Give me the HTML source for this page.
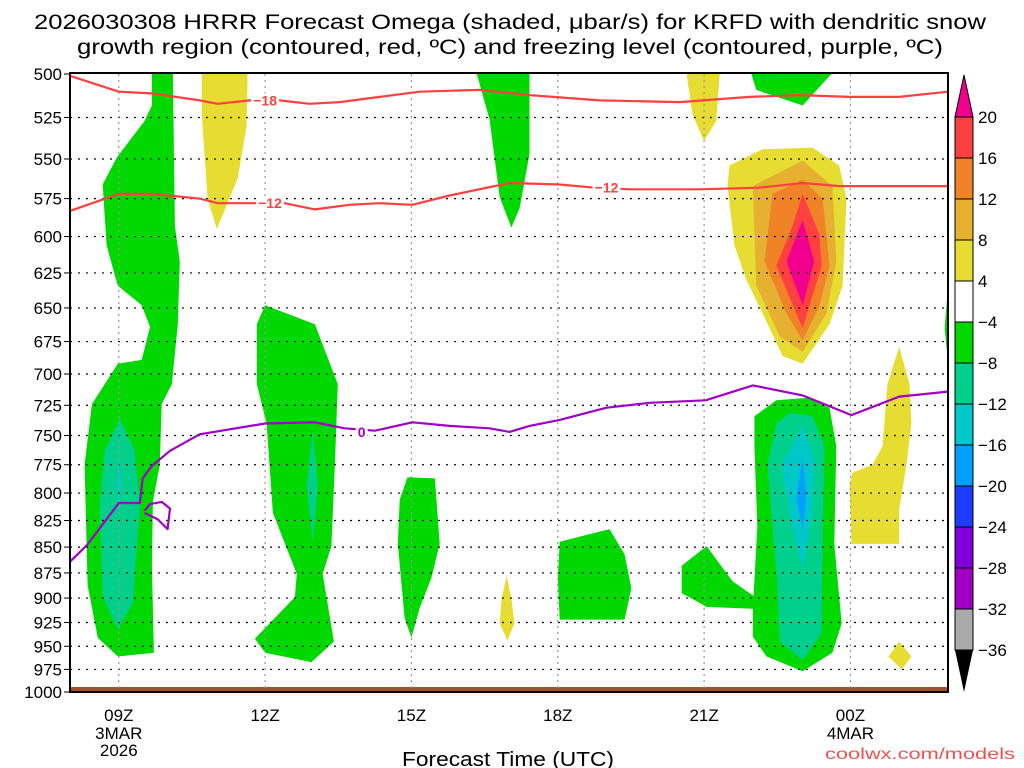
<!DOCTYPE html>
<html><head><meta charset="utf-8"><style>
html,body{margin:0;padding:0;background:#fff;}
svg{display:block;font-family:"Liberation Sans",sans-serif;}
</style></head><body>
<svg id="chart" width="1024" height="768" viewBox="0 0 1024 768" xmlns="http://www.w3.org/2000/svg">
<rect x="0" y="0" width="1024" height="768" fill="#fff"/>
<text x="510" y="29" font-size="21" text-anchor="middle" textLength="952" lengthAdjust="spacingAndGlyphs">2026030308 HRRR Forecast Omega (shaded, μbar/s) for KRFD with dendritic snow</text>
<text x="510" y="54" font-size="21" text-anchor="middle" textLength="866" lengthAdjust="spacingAndGlyphs">growth region (contoured, red, ºC) and freezing level (contoured, purple, ºC)</text>
<g id="shade"></g>
<rect x="70" y="687" width="878" height="5" fill="#a0522d"/>
<g id="grid"></g>
<g id="lines"></g>
<rect x="70" y="73" width="878" height="619" fill="none" stroke="#000" stroke-width="2"/>
<g id="axes"></g>
<g id="cbar"></g>
<text x="508" y="766" font-size="20" text-anchor="middle" textLength="212" lengthAdjust="spacingAndGlyphs">Forecast Time (UTC)</text>
<text x="1015" y="759" font-size="16" text-anchor="end" fill="#f05050" textLength="190" lengthAdjust="spacingAndGlyphs">coolwx.com/models</text>
</svg>
<script>
// ---- data ----
const pressureTicks=[500,525,550,575,600,625,650,675,700,725,750,775,800,825,850,875,900,925,950,975,1000];
const hourTicks=[9,12,15,18,21,24];
const hourLabels=["09Z","12Z","15Z","18Z","21Z","00Z"];
const dateLabels={9:["3MAR","2026"],24:["4MAR"]};
const cbarLevels=["20","16","12","8","4","\u22124","\u22128","\u221212","\u221216","\u221220","\u221224","\u221228","\u221232","\u221236"];
const cbarColors=["#ff4040","#f08228","#e6b030","#e6dc32","#ffffff","#00d800","#00d08c","#00c8c8","#00a0ff","#1e3cff","#8000d8","#a000c0","#aaaaaa"];
const levelColor={y:"#e6dc32",g:"#e6b030",o:"#f08228",r:"#ff4040",m:"#f0008c",gr:"#00d800",t:"#00d08c",c:"#00c8c8",b:"#00a0ff"};
const shadeLevels=["gr","t","c","y","gr","t","y","gr","y","g","o","r","m","gr","gr","t","c","b","y","y","gr","gr","gr","y","gr"];
const shadeNames=["green-a","teal-a","cyan-a","yellow-a","green-b","teal-b","yellow-21z","green-top","yellow-blob","gold-blob","orange-blob","red-blob","magenta-core","green-right","green-lobe","teal-right","cyan-right","blue-right","yellow-right","yellow-diamond","green-edge","green-17z","green-15z","yellow-17z","green-18z"];
const shadePolys=[
[[9.68,500],[10.11,500],[10.15,593],[10.25,617],[10.21,662],[10.09,708],[9.88,724],[9.84,775],[9.7,808],[9.68,868],[9.72,957],[8.98,961],[8.57,941],[8.36,887],[8.3,775],[8.45,724],[8.98,692],[9.47,689],[9.64,664],[9.47,648],[8.98,634],[8.75,606],[8.67,566],[8.96,549],[9.53,527],[9.68,518]],
[[9.02,736],[9.33,763],[9.43,811],[9.29,905],[8.98,932],[8.67,899],[8.61,811],[8.71,763]],
[[9.0,770],[9.05,790],[9.0,815],[8.95,790]],
[[10.7,500],[11.64,500],[11.62,530],[11.44,562],[11.01,595],[10.82,575],[10.7,523]],
[[12.0,648],[13.02,662],[13.49,708],[13.43,775],[13.36,849],[13.18,876],[13.41,945],[12.95,967],[12.0,957],[11.79,942],[12.61,899],[12.65,876],[12.16,818],[12.03,740],[11.83,708],[11.83,662]],
[[12.98,745],[13.08,793],[12.98,845],[12.85,793]],
[[20.64,500],[21.32,500],[21.25,527],[21.0,539],[20.76,523]],
[[21.97,500],[23.61,500],[23.02,518],[22.07,509]],
[[21.52,554],[22.2,544],[23.22,543],[23.77,554],[23.92,575],[23.84,634],[23.57,662],[23.02,692],[22.61,686],[22.2,654],[21.87,630],[21.62,606],[21.48,567]],
[[22.0,567],[23.02,551],[23.63,567],[23.71,617],[23.51,654],[23.02,683],[22.55,671],[22.07,634]],
[[22.4,572],[23.02,563],[23.43,575],[23.57,620],[23.36,649],[23.02,674],[22.69,654],[22.24,617]],
[[23.02,572],[23.36,598],[23.41,620],[23.02,665],[22.48,620],[22.81,593]],
[[23.02,589],[23.26,617],[23.02,648],[22.69,617]],
[[22.03,734],[22.48,721],[23.1,719],[23.57,727],[23.71,759],[23.67,847],[23.82,926],[23.63,957],[23.02,977],[22.28,961],[22.0,940],[22.0,910],[22.09,831],[22.03,759]],
[[20.54,868],[21.05,849],[21.58,883],[22.05,899],[22.05,911],[21.05,909],[20.54,895]],
[[22.75,731],[23.22,734],[23.47,759],[23.43,847],[23.41,936],[23.02,965],[22.55,945],[22.5,887],[22.4,831],[22.3,775],[22.48,740]],
[[23.02,742],[23.26,771],[23.22,816],[23.02,871],[22.75,820],[22.59,775]],
[[23.02,769],[23.1,804],[23.02,834],[22.89,804]],
[[25.0,679],[25.21,708],[25.25,740],[25.15,775],[25.0,815],[25.0,847],[24.02,847],[23.98,793],[24.04,782],[24.45,775],[24.66,759],[24.76,708]],
[[25.0,945],[25.25,961],[25.05,975],[24.78,961]],
[[26.01,631],[25.93,665],[26.01,695]],
[[16.34,500],[17.42,500],[17.42,547],[17.22,581],[17.05,594],[16.81,574],[16.6,526]],
[[14.92,786],[15.48,787],[15.58,847],[15.41,880],[15.17,910],[15.0,941],[14.86,920],[14.72,847],[14.76,806]],
[[16.95,878],[17.05,900],[17.11,926],[16.97,944],[16.81,926],[16.85,900]],
[[18.04,845],[19.06,833],[19.37,857],[19.51,890],[19.37,922],[18.04,922],[18.0,880]]
];
const isoM18=[[8.0,501],[9.0,510],[9.68,511],[10.66,515],[11.03,517],[11.68,515],[12.3,515],[12.91,517],[13.53,516],[14.35,513],[15.17,510],[16.4,509],[17.42,512],[18.86,515],[20.5,516],[21.93,513],[22.95,512],[23.98,513],[25.0,513],[26.0,510]];
const isoM12=[[8.0,583],[9.0,572],[9.68,572],[10.66,575],[11.03,578],[11.68,578],[12.4,578],[13.02,582],[13.73,579],[14.35,578],[15.02,579],[15.78,573],[17.01,565],[18.04,566],[18.75,568],[19.47,569],[20.9,569],[22.14,568],[23.02,565],[23.77,567],[26.0,567]];
const iso0=[[8.0,864],[8.35,848],[9.0,809],[9.43,809],[9.49,787],[9.68,776],[10.05,763],[10.66,749],[12.0,740],[13.02,739],[13.63,744],[14.25,746],[15.02,739],[15.78,742],[16.6,744],[17.01,747],[17.42,742],[18.04,737],[19.0,727],[19.88,723],[21.03,721],[22.0,709],[23.02,717],[24.02,733],[25.0,718],[26.0,714]];
const iso0Loop=[[9.53,816],[9.64,810],[9.88,808],[10.05,814],[10.0,833],[9.8,824],[9.53,818]];
const isoLabels=[["-18",12.0,515,"#ff4040"],["-12",12.1,578,"#ff4040"],["-12",19.0,568,"#ff4040"],["0",13.98,747,"#a000c8"]];

// ---- scales ----
const X0=70,X1=948,Y0=74,Y1=692,H0=8,H1=26;
function xs(h){return X0+(h-H0)/(H1-H0)*(X1-X0);}
function ys(p){return Y0+Math.log(p/500)/Math.log(2)*(Y1-Y0);}
const NS="http://www.w3.org/2000/svg";
function mk(tag,attrs,parent){const e=document.createElementNS(NS,tag);for(const k in attrs)e.setAttribute(k,attrs[k]);parent.appendChild(e);return e;}
function pts(a){return a.map(d=>xs(d[0]).toFixed(1)+","+ys(d[1]).toFixed(1)).join(" ");}

const shade=document.getElementById("shade");
shadePolys.forEach((poly,i)=>{
  const e=mk("polygon",{points:pts(poly),fill:levelColor[shadeLevels[i]]},shade);
  
  
});

const grid=document.getElementById("grid");
pressureTicks.forEach(p=>{
  if(p===500||p===1000)return;
  const e=mk("line",{x1:X0,x2:X1,y1:ys(p),y2:ys(p),stroke:"#000","stroke-width":1.2,"stroke-dasharray":"2,6"},grid);
  
  
});
hourTicks.forEach(h=>{
  const e=mk("line",{x1:xs(h),x2:xs(h),y1:Y0,y2:Y1,stroke:"#999","stroke-width":1.2,"stroke-dasharray":"2,4"},grid);
  
  
});

const lines=document.getElementById("lines");
[[isoM18,"#ff4040","isotherm-minus-18"],[isoM12,"#ff4040","isotherm-minus-12"],[iso0,"#a000c8","freezing-level-0"],[iso0Loop,"#a000c8","freezing-level-loop"]].forEach(s=>{
  const e=mk("polyline",{points:pts(s[0]),fill:"none",stroke:s[1],"stroke-width":2.2,"stroke-linejoin":"round"},lines);
  
  
});
isoLabels.forEach(l=>{
  const x=xs(l[1]),y=ys(l[2]);
  const w=l[0].length*8+4;
  const r=mk("rect",{x:x-w/2,y:y-7,width:w,height:14,fill:"#fff"},lines);
  
  
  const t=mk("text",{x:x,y:y+5,"font-size":14,"font-weight":"bold","text-anchor":"middle",fill:l[3]},lines);
  t.textContent=l[0].replace("-","\u2212");
  
  
});

const axes=document.getElementById("axes");
pressureTicks.forEach(p=>{
  const y=ys(p);
  const tk=mk("line",{x1:64,x2:70,y1:y,y2:y,stroke:"#000","stroke-width":1},axes);
  
  
  const t=mk("text",{x:62,y:y+6,"font-size":17,"text-anchor":"end"},axes);
  t.textContent=p;
  
  
});
hourTicks.forEach((h,i)=>{
  const x=xs(h);
  const t=mk("text",{x:x,y:721,"font-size":17,"text-anchor":"middle"},axes);
  t.textContent=hourLabels[i];
  
  
  (dateLabels[h]||[]).forEach((d,j)=>{
    const u=mk("text",{x:x,y:739+j*17,"font-size":17,"text-anchor":"middle"},axes);
    u.textContent=d;
    
    
  });
});

const cbar=document.getElementById("cbar");
const CX=955,CW=18,CT=117,CH=41;
const cTop=mk("polygon",{points:`${CX},${CT} ${CX+CW},${CT} ${CX+CW/2},${CT-42}`,fill:"#f0008c",stroke:"#000","stroke-width":1},cbar);


cbarColors.forEach((c,i)=>{
  const r=mk("rect",{x:CX,y:CT+i*CH,width:CW,height:CH,fill:c,stroke:"#000","stroke-width":1},cbar);
  
  
});
const yb=CT+cbarColors.length*CH;
const cBot=mk("polygon",{points:`${CX},${yb} ${CX+CW},${yb} ${CX+CW/2},${yb+42}`,fill:"#000"},cbar);


cbarLevels.forEach((l,i)=>{
  const t=mk("text",{x:978,y:CT+i*CH+6,"font-size":17},cbar);
  t.textContent=l;
  
  
});
</script>
</body></html>
